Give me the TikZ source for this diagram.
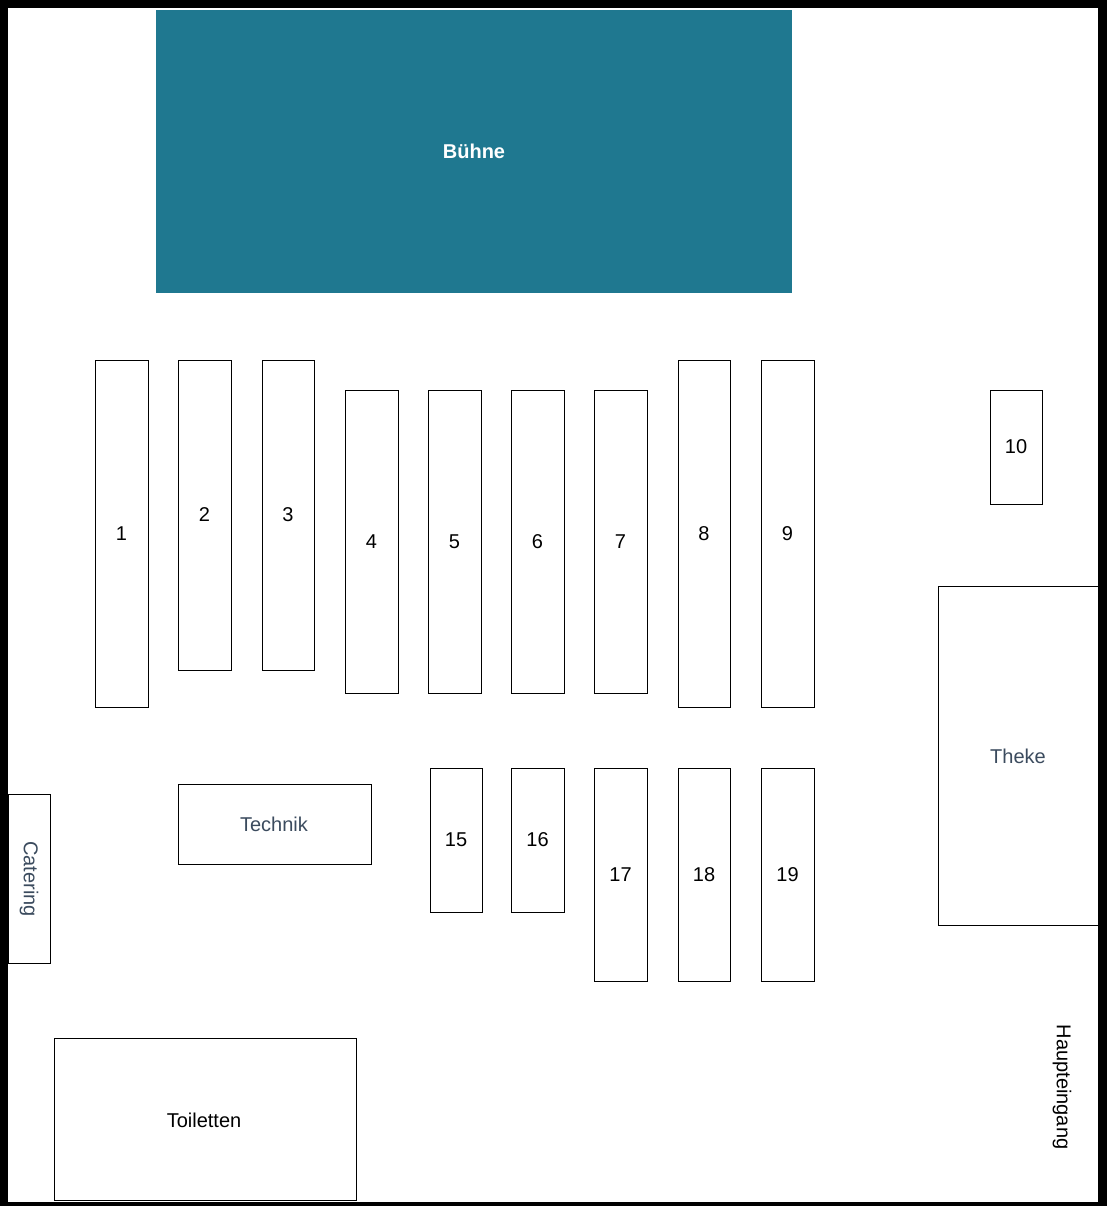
\documentclass[tikz,border=0pt]{standalone}
\usepackage{fontspec}
\setmainfont{Liberation Sans}
\usepackage{xcolor}
\usepackage{tikz}
\definecolor{stagecol}{HTML}{1F7890}
\definecolor{labelcol}{HTML}{3B4B5E}
\tikzset{
  tbl/.style={draw=black,fill=white,line width=0.6pt},
  lbl/.style={font=\fontsize{15}{18}\selectfont},
}

\begin{document}
\begin{tikzpicture}[x=0.75pt,y=-0.75pt]
        % room
        \fill[black] (0,0) rectangle (1107,1206);
        \fill[white] (8,8) rectangle (1098,1202);
        \useasboundingbox (0,0) rectangle (1107,1206);
        % stage
        \fill[stagecol] (156,10) rectangle (792,293);
        \node[font=\bfseries\fontsize{15}{18}\selectfont,text=white] (buehne) at (474,151) {Bühne};
        % tables: number/left/top/right/bottom
        \foreach \nr/\xa/\ya/\xb/\yb in {1/95/360/148/707,2/178/360/231/670,3/262/360/314/670,
            4/345/390/398/693,5/428/390/481/693,6/511/390/564/693,7/594/390/647/693,
            8/678/360/730/707,9/761/360/814/707,10/990/390/1042/504,
            15/430/768/482/912,16/511/768/564/912,17/594/768/647/981,
            18/678/768/730/981,19/761/768/814/981}{
          \draw[tbl] (\xa,\ya) rectangle (\xb,\yb);
          \node[lbl] (T-\nr) at ({(\xa+\xb)/2},{(\ya+\yb)/2}) {\nr};
        }
        % other areas
        \draw[tbl] (938,586) rectangle (1098,925);
        \node[lbl,text=labelcol] (theke) at (1018,756) {Theke};
        \draw[tbl] (178,784) rectangle (371,864);
        \node[lbl,text=labelcol] (technik) at (274,824) {Technik};
        \draw[tbl] (8,794) rectangle (50,963);
        \node[lbl,text=labelcol,rotate=-90] (catering) at (29,879) {Catering};
        \draw[tbl] (54,1038) rectangle (356,1200);
        \node[lbl] (toiletten) at (204,1120) {Toiletten};
        \node[lbl,rotate=-90] (eingang) at (1062,1087) {Haupteingang};
\end{tikzpicture}
\end{document}
